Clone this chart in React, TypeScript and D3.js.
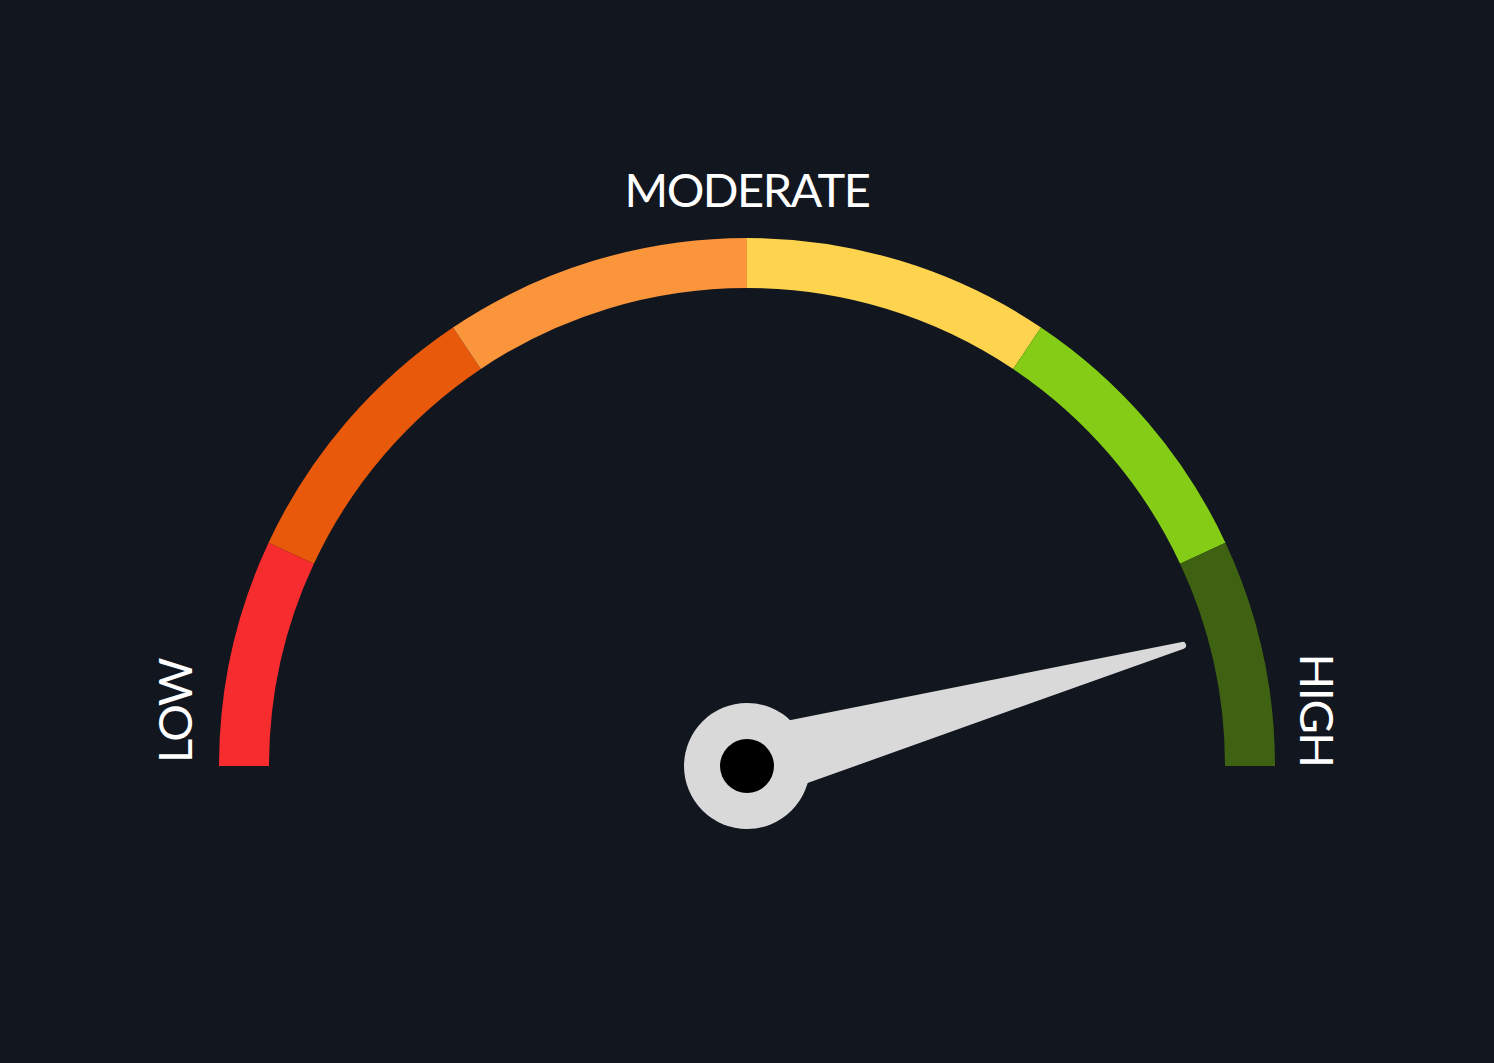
import { useEffect, useRef } from 'react';
import * as d3 from 'd3';

// Gauge bands: upper bound of each band on a 0–100 scale, with fill colours.
const bandEnds = [13.9, 31.2, 50, 68.8, 86.1, 100];
const bandColors = ['#f72c2f', '#e8590c', '#fb953c', '#fed44f', '#84cc16', '#3f6212'];
const needleValue = 91.4;
const labels = ['LOW', 'MODERATE', 'HIGH'];

const W = 1494;
const H = 1063;

export default function App() {
  const svgRef = useRef<SVGSVGElement>(null);

  useEffect(() => {
    if (!svgRef.current) return;
    const cx = 747;
    const cy = 766;
    const outer = 528;
    const inner = 478;

    const svg = d3.select(svgRef.current);
    svg.selectAll('*').remove();
    svg.append('rect').attr('width', W).attr('height', H).attr('fill', '#12161f');

    const angle = d3.scaleLinear().domain([0, 100]).range([-Math.PI / 2, Math.PI / 2]);
    const g = svg.append('g').attr('transform', `translate(${cx},${cy})`);

    const bands = bandEnds.map((end, i) => ({
      start: i === 0 ? 0 : bandEnds[i - 1],
      end,
      color: bandColors[i],
    }));

    const arc = d3.arc<{ start: number; end: number }>()
      .innerRadius(inner)
      .outerRadius(outer)
      .startAngle((d) => angle(d.start))
      .endAngle((d) => angle(d.end));

    g.selectAll('path.band')
      .data(bands)
      .join('path')
      .attr('class', 'band')
      .attr('d', arc)
      .attr('fill', (d) => d.color);

    // Labels
    const font = 'Lato, "Open Sans", sans-serif';
    const txt = (s: string, x: number, y: number, rot: number) =>
      g.append('text')
        .attr('transform', `translate(${x},${y}) rotate(${rot})`)
        .attr('text-anchor', 'middle')
        .attr('font-family', font)
        .attr('font-size', 47)
        .attr('font-weight', 400)
        .attr('letter-spacing', '-1.5px')
        .attr('fill', '#ffffff')
        .text(s);
    txt(labels[0], -555, -55, -90);
    txt(labels[1], 0, -559, 0);
    txt(labels[2], 553, -56, 90);

    // Needle
    const a = angle(needleValue);
    const ux = Math.sin(a);
    const uy = -Math.cos(a);
    const nx = -uy;
    const ny = ux;
    const len = 452;
    const half = 33;
    const pts: [number, number][] = [
      [nx * half, ny * half],
      [ux * len, uy * len],
      [-nx * half, -ny * half],
    ];
    g.append('path')
      .attr('d', d3.line()(pts) + 'Z')
      .attr('fill', '#d9d9d9')
      .attr('stroke', '#d9d9d9')
      .attr('stroke-width', 7)
      .attr('stroke-linejoin', 'round');

    g.append('circle').attr('r', 63).attr('fill', '#d9d9d9');
    g.append('circle').attr('r', 27).attr('fill', '#000000');
  }, []);

  return (
    <svg
      ref={svgRef}
      width={W}
      height={H}
      style={{ position: 'absolute', left: 0, top: 0, display: 'block' }}
    />
  );
}
